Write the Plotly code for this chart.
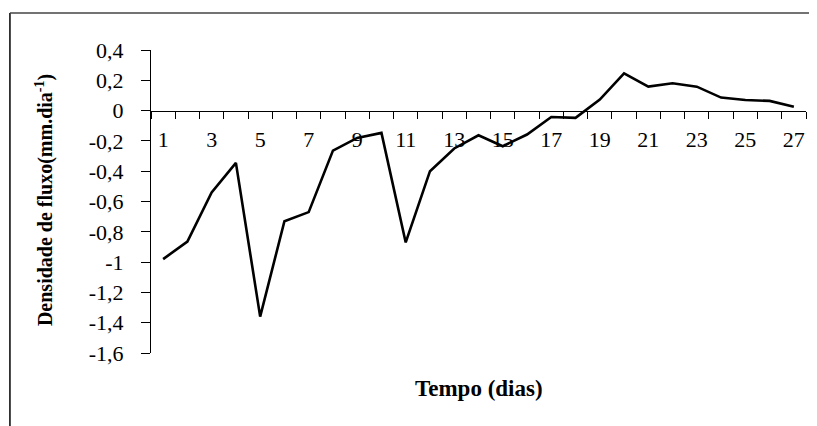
import plotly.graph_objects as go

dias = list(range(1, 28))
densidade = [-0.98, -0.865, -0.54, -0.345, -1.36, -0.73, -0.67, -0.264, -0.18, -0.147,
             -0.87, -0.40, -0.25, -0.163, -0.235, -0.158, -0.042, -0.048, 0.073, 0.246,
             0.158, 0.18, 0.158, 0.086, 0.07, 0.064, 0.026]

x_tickvals = list(range(1, 28, 2))
x_ticktext = [str(v) for v in x_tickvals]
y_tickvals = [0.4, 0.2, 0, -0.2, -0.4, -0.6, -0.8, -1, -1.2, -1.4, -1.6]
y_ticktext = ["0,4", "0,2", "0", "-0,2", "-0,4", "-0,6", "-0,8", "-1", "-1,2", "-1,4", "-1,6"]

FONT = "Liberation Serif"

fig = go.Figure()
fig.add_trace(go.Scatter(x=dias, y=densidade, mode="lines",
                         line=dict(color="black", width=2.6), showlegend=False))

# page body has an 8px margin; figure is offset by it
OFF = 8
W, H = 817 - OFF, 426 - OFF
L, T = 151 - OFF, 50 - OFF
R = 817 - 805.7
B = 426 - 352.7
pw, ph = W - L - R, H - T - B

def px_to_py(py):
    return (426 - B - py) / ph

def px_to_px(px):
    return (px - 151) / pw

fig.update_layout(
    width=W, height=H,
    margin=dict(l=L, r=R, t=T, b=B, pad=0, autoexpand=False),
    paper_bgcolor="white", plot_bgcolor="white",
    font=dict(family=FONT, color="black", size=21),
    xaxis=dict(
        range=[0.5, 27.5], anchor="free", position=0.8, automargin=False,
        showline=True, linecolor="black", linewidth=1,
        showgrid=False, zeroline=False,
        tickmode="array", tickvals=x_tickvals, ticktext=x_ticktext,
        ticks="", ticklabelstandoff=9,
        tickfont=dict(family=FONT, size=22, color="black"),
        minor=dict(tick0=0.5, dtick=1, ticks="outside", ticklen=7,
                   tickcolor="black", tickwidth=1, showgrid=False),
    ),
    yaxis=dict(
        range=[-1.6, 0.4], automargin=False,
        showline=True, linecolor="black", linewidth=1,
        showgrid=False, zeroline=False,
        tickmode="array", tickvals=y_tickvals, ticktext=y_ticktext,
        ticks="outside", ticklen=9, tickcolor="black", tickwidth=1,
        ticklabelstandoff=13,
        tickfont=dict(family=FONT, size=22, color="black"),
    ),
)

# x-axis title
fig.add_annotation(text="<b>Tempo (dias)</b>", xref="paper", yref="paper",
                   x=0.5, y=px_to_py(388), showarrow=False,
                   font=dict(family=FONT, size=23, color="black"),
                   xanchor="center", yanchor="middle")
# y-axis title
fig.add_annotation(text="<b>Densidade de fluxo(mm.dia<sup>-1</sup>)</b>", xref="paper", yref="paper",
                   x=px_to_px(44), y=px_to_py(200), showarrow=False, textangle=-90,
                   font=dict(family=FONT, size=20, color="black"),
                   xanchor="center", yanchor="middle")

# outer chart frame (left and top edges visible)
bx = px_to_px(10)
by = px_to_py(13)
fig.add_shape(type="line", xref="paper", yref="paper", x0=bx, x1=bx, y0=by, y1=-0.5,
              line=dict(color="black", width=1.5))
fig.add_shape(type="line", xref="paper", yref="paper", x0=bx, x1=1.2, y0=by, y1=by,
              line=dict(color="#444444", width=1.5))

fig.write_html("out.html")
